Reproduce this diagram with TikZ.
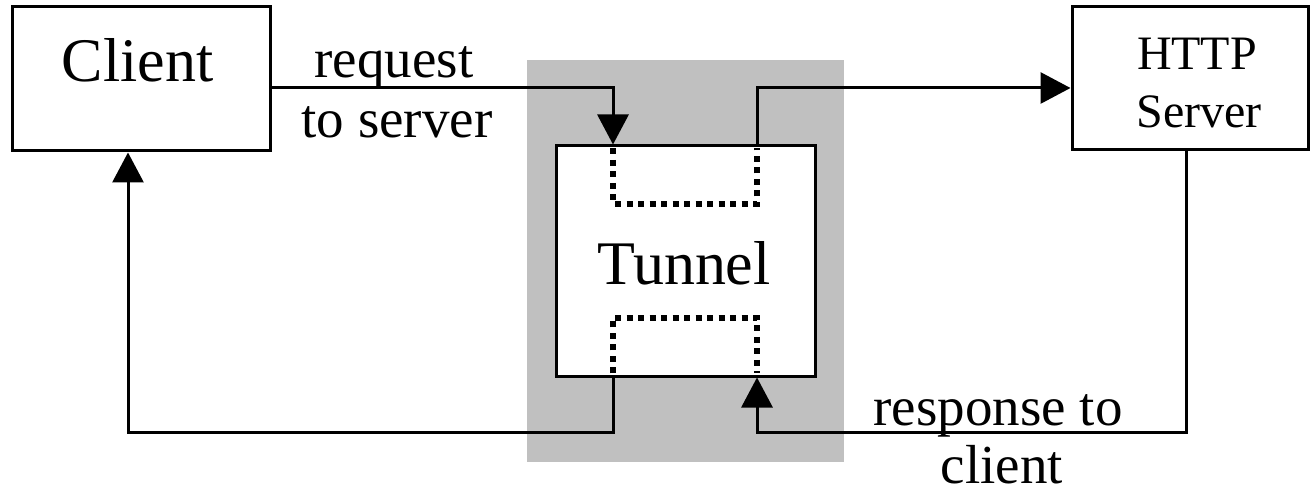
\documentclass[tikz,border=0pt]{standalone}
\usepackage{fontspec}
\setmainfont{Liberation Serif}
\usetikzlibrary{arrows.meta}
\definecolor{shade}{HTML}{C0C0C0}
\begin{document}
\begin{tikzpicture}[x=1pt,y=-1pt,
  box/.style={draw, line width=3pt, fill=white, rectangle, inner sep=0pt},
  conn/.style={line width=3pt, -{Triangle[length=30pt,width=31pt]}},
  dots/.style={line width=6pt, dash pattern=on 6pt off 5.5pt},
  bigtext/.style={anchor=base, inner sep=0pt, font=\fontsize{62}{62}\selectfont},
  midtext/.style={anchor=base, inner sep=0pt, font=\fontsize{48}{48}\selectfont},
  lbltext/.style={anchor=base, inner sep=0pt, font=\fontsize{55}{55}\selectfont}]
\useasboundingbox (0,0) rectangle (1315,494);
% shaded region
\node[fill=shade, inner sep=0pt, minimum width=317pt, minimum height=402pt] (shadebg) at (685.5,261) {};
% boxes
\node[box, minimum width=258pt, minimum height=144pt] (client) at (141,79) {};
\node[box, minimum width=236pt, minimum height=143pt] (server) at (1190,78.5) {};
\node[box, minimum width=259pt, minimum height=230pt] (tunnel) at (685.5,261) {};
% texts
\node[bigtext] (clienttxt) at (137.5,82) {Client};
\node[bigtext] (tunneltxt) at (684,285) {Tunnel};
\node[midtext] (httptxt) at (1197,70) {HTTP};
\node[midtext] (servertxt) at (1199,128) {Server};
\node[lbltext] (req1) at (394,78) {request};
\node[lbltext] (req2) at (397,138) {to server};
\node[lbltext] (resp1) at (998,425) {response to};
\node[lbltext] (resp2) at (1002,483) {client};
% helper coordinates
\coordinate (xl) at (613,0);
\coordinate (xr) at (757,0);
\coordinate (xs) at (1186,0);
\coordinate (xc) at (128,0);
\coordinate (yt) at (0,88);
\coordinate (yb) at (0,432);
\coordinate (dt) at (0,204);
\coordinate (db) at (0,318);
% connectors
\draw[conn] (client.east |- yt) -| (tunnel.north -| xl);
\draw[conn] (tunnel.north -| xr) |- (server.west |- yt);
\draw[conn] (server.south -| xs) -- (xs |- yb) -| (tunnel.south -| xr);
\draw[conn] (tunnel.south -| xl) -- (xl |- yb) -| (client.south -| xc);
% dotted inner paths
\draw[dots] ([yshift=-4pt]tunnel.north -| xl) -- (xl |- dt) -- (xr |- dt) -- ([yshift=-4pt]tunnel.north -| xr);
\draw[dots] ([yshift=4pt]tunnel.south -| xl) -- (xl |- db) -- (xr |- db) -- ([yshift=4pt]tunnel.south -| xr);
\end{tikzpicture}
\end{document}
